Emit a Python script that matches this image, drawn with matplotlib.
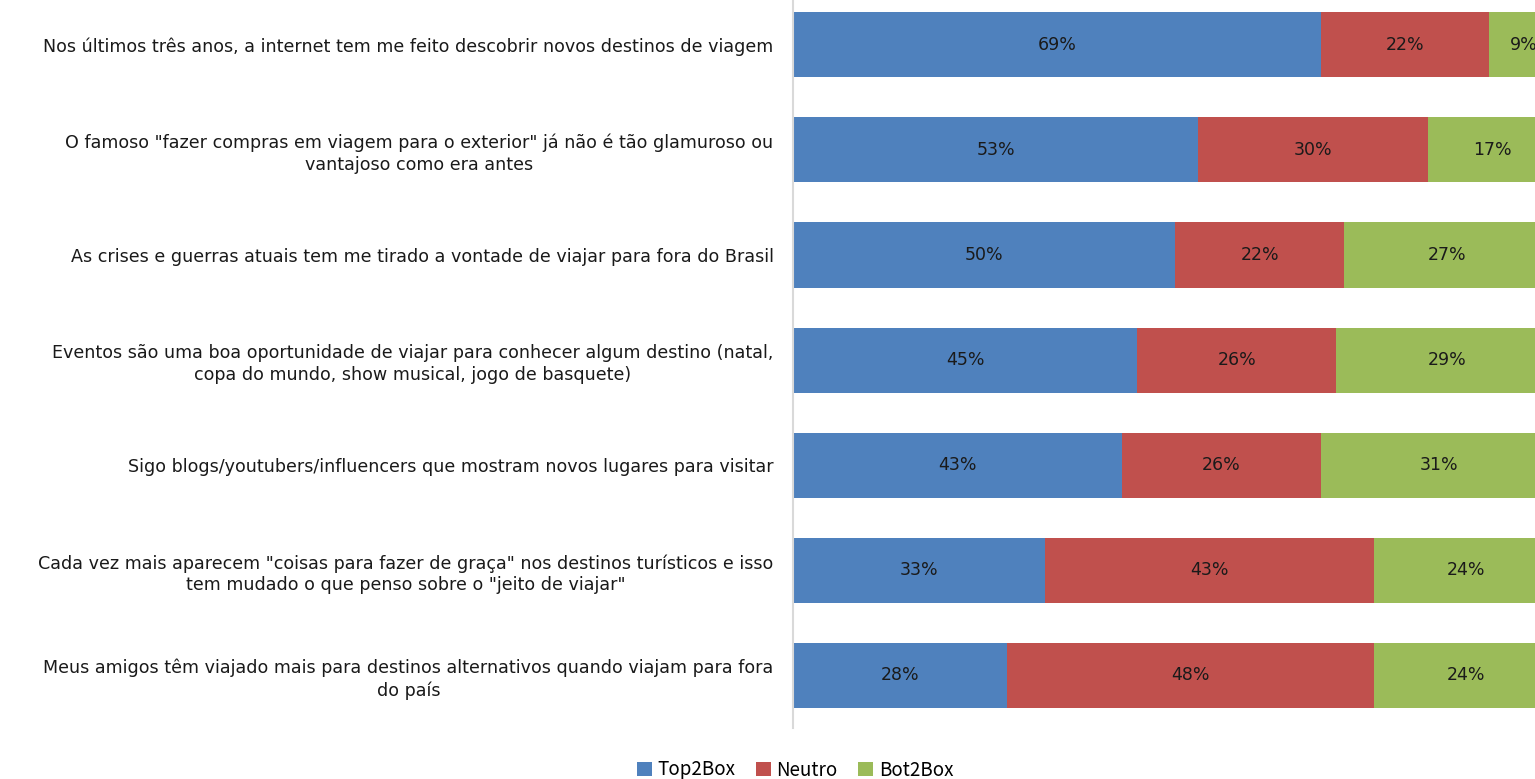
import numpy as np
import matplotlib.pyplot as plt

categories = [
    'Nos últimos três anos, a internet tem me feito descobrir novos destinos de viagem',
    'O famoso "fazer compras em viagem para o exterior" já não é tão glamuroso ou\nvantajoso como era antes',
    'As crises e guerras atuais tem me tirado a vontade de viajar para fora do Brasil',
    'Eventos são uma boa oportunidade de viajar para conhecer algum destino (natal,\ncopa do mundo, show musical, jogo de basquete)',
    'Sigo blogs/youtubers/influencers que mostram novos lugares para visitar',
    'Cada vez mais aparecem "coisas para fazer de graça" nos destinos turísticos e isso\ntem mudado o que penso sobre o "jeito de viajar"',
    'Meus amigos têm viajado mais para destinos alternativos quando viajam para fora\ndo país',
]
top2box = [69, 53, 50, 45, 43, 33, 28]
neutro = [22, 30, 22, 26, 26, 43, 48]
bot2box = [9, 17, 27, 29, 31, 24, 24]
series = ['Top2Box', 'Neutro', 'Bot2Box']
colors = ['#4F81BD', '#C0504D', '#9BBB59']

plt.rcParams['font.family'] = ['DejaVu Sans']

fig = plt.figure(figsize=(15.35, 7.79), dpi=100)
ax = fig.add_axes([793/1535, 0.0655, 1 - 793/1535, 0.9445])

y = np.arange(len(categories))
left = np.zeros(len(categories))
handles = []
for vals, name, c in zip([top2box, neutro, bot2box], series, colors):
    vals = np.array(vals)
    b = ax.barh(y, vals, left=left, height=0.62, color=c, label=name)
    handles.append(b)
    for yi, l, v in zip(y, left, vals):
        ax.text(l + v / 2, yi, f'{v}%', ha='center', va='center', fontsize=12.5, color='#1a1a1a')
    left += vals

ax.set_xlim(0, 97)
ax.set_ylim(len(categories) - 0.5, -0.5)
ax.set_yticks(y)
ax.set_yticklabels(categories, fontsize=12.6, color='#1a1a1a', multialignment='center',
                   linespacing=1.25)
ax.tick_params(axis='y', length=0, pad=14)
ax.set_xticks([])
for s in ['top', 'right', 'bottom']:
    ax.spines[s].set_visible(False)
ax.spines['left'].set_color('#D9D9D9')
ax.spines['left'].set_linewidth(1.5)

fig.legend(handles, series, loc='center', bbox_to_anchor=(795/1535, 9/779), ncol=3,
           frameon=False, handlelength=0.8, handleheight=0.8,
           handletextpad=0.3, columnspacing=1.1,
           prop={'family': ['Noto Sans CJK JP', 'DejaVu Sans'], 'size': 13.5})

fig.savefig('out.png', dpi=100)
